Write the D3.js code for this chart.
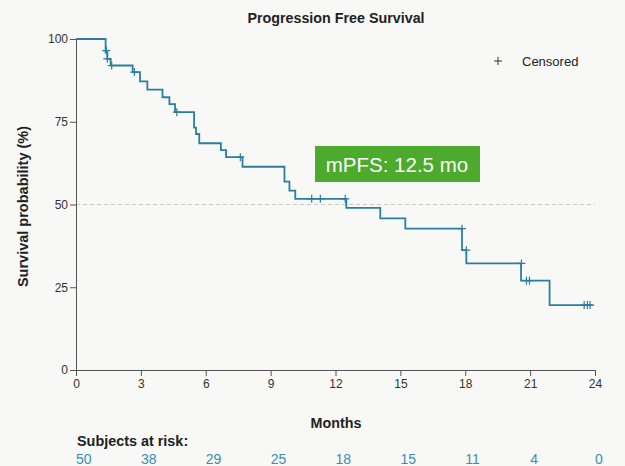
<!DOCTYPE html>
<html>
<head>
<meta charset="utf-8">
<script src="https://cdn.jsdelivr.net/npm/d3@7"></script>
<style>
  body { margin: 0; background: #f8f8f6; }
  svg { display: block; font-family: "Liberation Sans", Arial, sans-serif; }
</style>
</head>
<body>
<svg id="plot"></svg>
<script>
// Kaplan-Meier steps: time (months) and survival (%) after each drop
const stepTimes = [0, 1.37, 1.45, 1.6, 2.62, 2.96, 3.3, 4.0, 4.32, 4.58, 5.46, 5.55, 5.7, 6.7, 6.94, 7.7, 9.64, 9.87, 10.14, 12.5, 14.07, 15.23, 17.85, 18.05, 20.58, 21.9]
const stepSurv = [100, 96, 94, 92, 90, 87.2, 84.7, 82.4, 80.3, 77.9, 73.2, 71.3, 68.5, 66.4, 64.3, 61.4, 56.9, 54.2, 51.7, 49.0, 45.8, 42.7, 36.2, 32.2, 27.0, 19.6]
const endTime = 23.9

// censored marks
const censorTimes = [1.4, 1.45, 1.65, 2.7, 4.66, 7.6, 10.9, 11.3, 12.45, 17.85, 18.05, 20.6, 20.83, 20.97, 23.5, 23.65, 23.77]
const censorSurv = [96.5, 94, 92, 90, 77.9, 64.3, 51.7, 51.7, 51.7, 42.7, 36.2, 32.2, 27.0, 27.0, 19.6, 19.6, 19.6]

const xTicks = [0, 3, 6, 9, 12, 15, 18, 21, 24]
const yTicks = [0, 25, 50, 75, 100]
const atRisk = [50, 38, 29, 25, 18, 15, 11, 4, 0]

const width = 625
const height = 466
const margin = ({top: 39, right: 30, bottom: 96, left: 76})
const lineColor = '#2a7ea0'

const x = d3.scaleLinear()
  .domain([0, 24])
  .range([margin.left, width - margin.right])
const y = d3.scaleLinear()
  .domain([0, 100])
  .range([height - margin.bottom, margin.top])

const svg = d3.select('svg#plot')
  .attr('width', width)
  .attr('height', height)

// title
svg.append('text')
  .attr('x', 336)
  .attr('y', 23)
  .attr('text-anchor', 'middle')
  .attr('font-size', 14.3)
  .attr('font-weight', 'bold')
  .attr('fill', '#222')
  .text('Progression Free Survival')

// 50% reference line
svg.append('line')
  .attr('x1', x(0))
  .attr('x2', x(24))
  .attr('y1', y(50))
  .attr('y2', y(50))
  .attr('stroke', '#c8c8c8')
  .attr('stroke-width', 1)
  .attr('stroke-dasharray', '4,3')

// axes
svg.append('g')
  .attr('transform', `translate(0, ${height - margin.bottom})`)
  .call(d3.axisBottom(x).tickValues(xTicks).tickSize(6).tickPadding(3))
svg.append('g')
  .attr('transform', `translate(${margin.left}, 0)`)
  .call(d3.axisLeft(y).tickValues(yTicks).tickSize(6).tickPadding(2))

svg.selectAll('.domain, .tick line').attr('stroke', '#555')
svg.selectAll('.tick text')
  .attr('font-size', 12)
  .attr('fill', '#333')
  .attr('font-family', '"Liberation Sans", Arial, sans-serif')

// axis labels
svg.append('text')
  .attr('transform', `translate(28, ${(margin.top + height - margin.bottom) / 2 + 2}) rotate(-90)`)
  .attr('text-anchor', 'middle')
  .attr('font-size', 14.5)
  .attr('font-weight', 'bold')
  .attr('fill', '#222')
  .text('Survival probability (%)')

svg.append('text')
  .attr('x', 336)
  .attr('y', 428)
  .attr('text-anchor', 'middle')
  .attr('font-size', 14.3)
  .attr('font-weight', 'bold')
  .attr('fill', '#222')
  .text('Months')

// KM step line
const pts = stepTimes.map((t, i) => [t, stepSurv[i]])
pts.push([endTime, stepSurv[stepSurv.length - 1]])
svg.append('path')
  .datum(pts)
  .attr('fill', 'none')
  .attr('stroke', lineColor)
  .attr('stroke-width', 1.8)
  .attr('d', d3.line()
    .x(d => x(d[0]))
    .y(d => y(d[1]))
    .curve(d3.curveStepAfter))

// censor marks
const cs = 4
svg.append('g')
  .selectAll('path')
  .data(censorTimes.map((t, i) => [t, censorSurv[i]]))
  .join('path')
    .attr('d', d => `M${x(d[0]) - cs},${y(d[1])}H${x(d[0]) + cs}M${x(d[0])},${y(d[1]) - cs}V${y(d[1]) + cs}`)
    .attr('stroke', lineColor)
    .attr('stroke-width', 1.2)

// legend
svg.append('path')
  .attr('d', 'M494,61H502M498,57V65')
  .attr('stroke', '#333')
  .attr('stroke-width', 1)
svg.append('text')
  .attr('x', 522)
  .attr('y', 66)
  .attr('font-size', 13)
  .attr('fill', '#222')
  .text('Censored')

// median box
svg.append('rect')
  .attr('x', 315)
  .attr('y', 146)
  .attr('width', 165)
  .attr('height', 36)
  .attr('fill', '#4caa2c')
svg.append('text')
  .attr('x', 397)
  .attr('y', 171.5)
  .attr('text-anchor', 'middle')
  .attr('font-size', 20.5)
  .attr('fill', '#fff')
  .text('mPFS: 12.5 mo')

// at-risk table
svg.append('text')
  .attr('x', 77)
  .attr('y', 446)
  .attr('font-size', 14.4)
  .attr('font-weight', 'bold')
  .attr('fill', '#222')
  .text('Subjects at risk:')

svg.append('g')
  .selectAll('text')
  .data(atRisk)
  .join('text')
    .attr('x', (d, i) => x(xTicks[i]))
    .attr('y', 464)
    .attr('font-size', 14)
    .attr('fill', '#3a8fb0')
    .text(d => d)
</script>
</body>
</html>
